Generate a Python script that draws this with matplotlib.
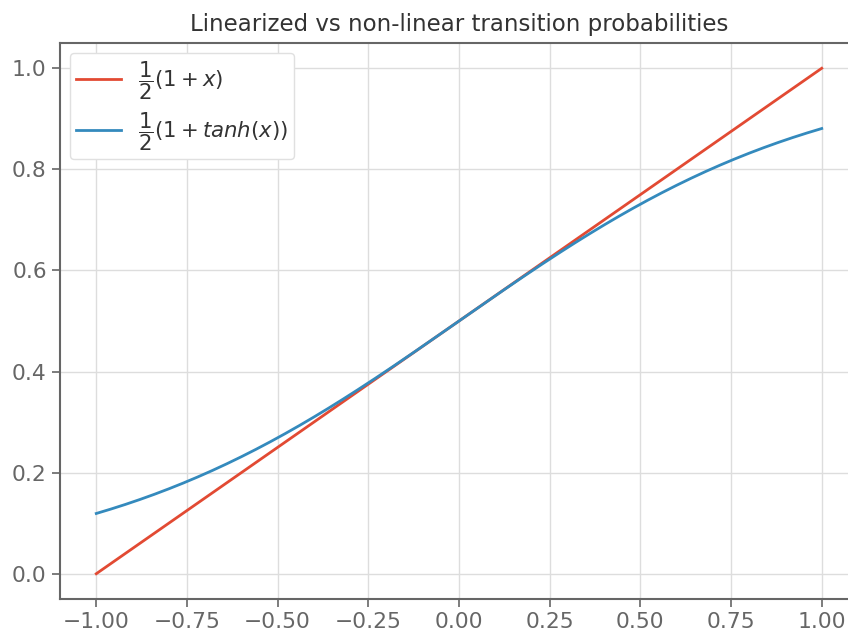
import numpy as np
import matplotlib
matplotlib.use("Agg")
import matplotlib.pyplot as plt

# Sample points along the input axis
x = np.linspace(-1.0, 1.0, 201)
linear = 0.5 * (1 + x)
nonlinear = 0.5 * (1 + np.tanh(x))

labels = [r"$\dfrac{1}{2}(1 + x)$", r"$\dfrac{1}{2}(1 + tanh(x))$"]
colors = ["#E24A33", "#348ABD"]
title = "Linearized vs non-linear transition probabilities"

fig = plt.figure(figsize=(8.48, 6.32), dpi=100)
ax = fig.add_axes([60 / 848, 33 / 632, 798 / 848, 556 / 632])

ax.plot(x, linear, color=colors[0], lw=2, label=labels[0])
ax.plot(x, nonlinear, color=colors[1], lw=2, label=labels[1])

ax.set_xticks([-1.0, -0.75, -0.5, -0.25, 0.0, 0.25, 0.5, 0.75, 1.0])
ax.set_yticks([0.0, 0.2, 0.4, 0.6, 0.8, 1.0])
ax.grid(True, color="#dddddd", lw=1)
ax.set_axisbelow(True)

for s in ax.spines.values():
    s.set_color("#666666")
    s.set_linewidth(1.5)
ax.tick_params(colors="#666666", labelcolor="#666666", labelsize=15.7,
               length=6, width=1.2, direction="out")

ax.set_title(title, fontsize=16.5, color="#333333", pad=9)

leg = ax.legend(loc="upper left", fontsize=15.3, frameon=True, framealpha=1,
                edgecolor="#e0e0e0", handlelength=2.1, borderpad=0.3,
                labelspacing=0.4, borderaxespad=0.45)
for t in leg.get_texts():
    t.set_color("#333333")

fig.savefig("out.png", dpi=100)
